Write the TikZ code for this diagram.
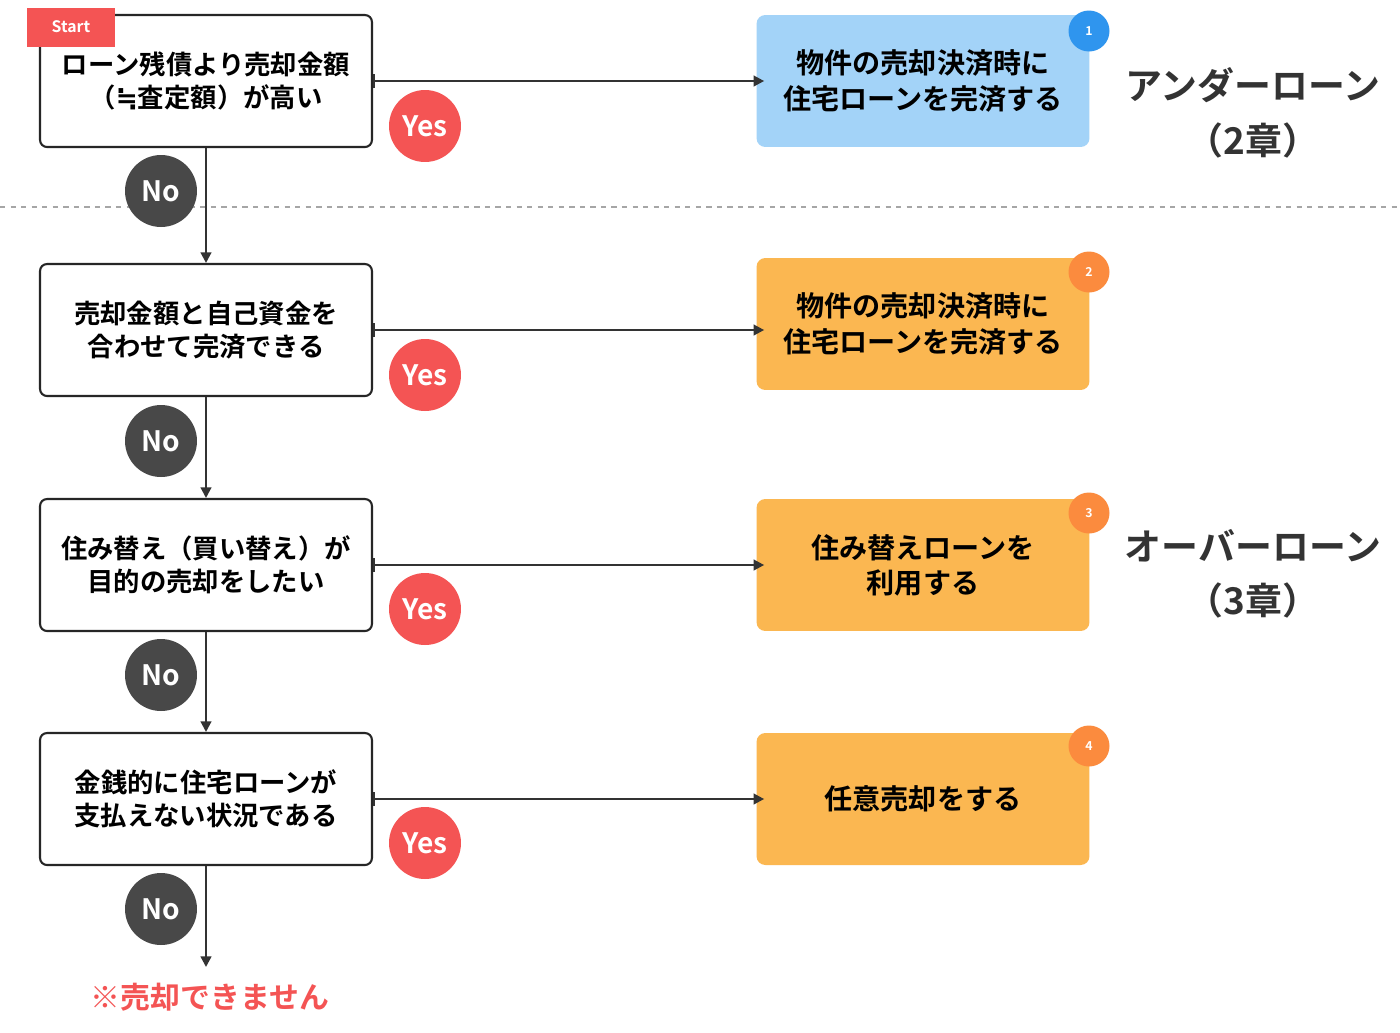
\documentclass[tikz,border=0pt]{standalone}
\usepackage{fontspec}
\setmainfont{Noto Sans CJK JP}[BoldFont={* Bold}]
\newfontfamily\symfont{DejaVu Sans}
\usetikzlibrary{arrows.meta}
\definecolor{boxblue}{HTML}{A3D3F8}
\definecolor{boxorange}{HTML}{FBB751}
\definecolor{numblue}{HTML}{2F95EE}
\definecolor{numorange}{HTML}{FB8B3E}
\definecolor{yesred}{HTML}{F45454}
\definecolor{nogray}{HTML}{484848}
\tikzset{
  ask/.style={draw=black!85, line width=1.2pt, rounded corners=4pt, minimum width=6.64cm, minimum height=2.64cm, align=center, font=\bfseries\fontsize{15}{19}\selectfont},
  result/.style={fill=#1, rounded corners=5pt, minimum width=6.66cm, minimum height=2.64cm, align=center, font=\bfseries\fontsize{16}{20}\selectfont},
  num/.style={circle, fill=#1, minimum size=0.82cm, inner sep=0pt, text=white, font=\bfseries\scriptsize},
  yes/.style={circle, fill=yesred, minimum size=1.44cm, inner sep=0pt, text=white, font=\bfseries\fontsize{16}{18}\selectfont},
  no/.style={circle, fill=nogray, minimum size=1.44cm, inner sep=0pt, text=white, font=\bfseries\fontsize{16}{18}\selectfont},
  flow/.style={draw=black!80, line width=1.3pt, -{Triangle[length=6pt,width=6pt]}},
  chapter/.style={font=\bfseries\fontsize{21}{31}\selectfont, text=black!80}
}
\begin{document}
\begin{tikzpicture}[x=0.02cm, y=-0.02cm]
    \useasboundingbox[fill=white] (0,0) rectangle (1400,1032);
    % divider
    \draw[dashed, gray!70, line width=1pt] (0,207) -- (1400,207);

    % questions
    \node[ask] (q1) at (206,81) {ローン残債より売却金額\\（{\symfont ≒}査定額）が高い};
    \node[ask] (q2) at (206,330) {売却金額と自己資金を\\合わせて完済できる};
    \node[ask] (q3) at (206,565) {住み替え（買い替え）が\\目的の売却をしたい};
    \node[ask] (q4) at (206,799) {金銭的に住宅ローンが\\支払えない状況である};
    \node[fill=yesred, text=white, minimum width=1.76cm, minimum height=0.78cm, font=\bfseries\small] (start) at (71,27) {Start};

    % results
    \node[result=boxblue] (r1) at (923,81) {物件の売却決済時に\\住宅ローンを完済する};
    \node[result=boxorange] (r2) at (923,324) {物件の売却決済時に\\住宅ローンを完済する};
    \node[result=boxorange] (r3) at (923,565) {住み替えローンを\\利用する};
    \node[result=boxorange] (r4) at (923,799) {任意売却をする};
    \node[num=numblue] (n1) at (1089,31) {1};
    \node[num=numorange] (n2) at (1089,272) {2};
    \node[num=numorange] (n3) at (1089,513) {3};
    \node[num=numorange] (n4) at (1089,746) {4};

    % chapters
    \node[chapter, align=center] (c1) at (1253,113) {アンダーローン\\（2章）};
    \node[chapter, align=center] (c2) at (1253,574) {オーバーローン\\（3章）};

    % connectors
    \foreach \i in {1,...,4}{
        \draw[flow, {Bar[width=8pt]}-{Triangle[length=6pt,width=6pt]}] (q\i.east) -- ([xshift=0.16cm]r\i.west |- q\i.east);
    }
    \draw[flow] (q1.south) -- (q2.north);
    \draw[flow] (q2.south) -- (q3.north);
    \draw[flow] (q3.south) -- (q4.north);
    \coordinate (end) at (206,967);
    \draw[flow] (q4.south) -- (end);
    \node[text=yesred, font=\bfseries\fontsize{17}{20}\selectfont] (stop) at (210,997) {※売却できません};

    % yes / no marks
    \foreach \i/\y in {1/126,2/375,3/609,4/843}{
        \node[yes] (yes\i) at (425,\y) {Yes};
    }
    \foreach \i/\y in {1/191,2/441,3/675,4/909}{
        \node[no] (no\i) at (161,\y) {No};
    }
\end{tikzpicture}
\end{document}
